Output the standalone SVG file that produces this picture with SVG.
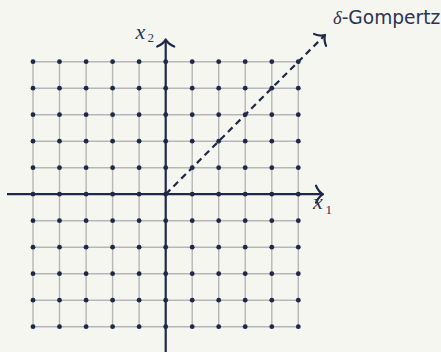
<svg xmlns="http://www.w3.org/2000/svg" width="441" height="352" viewBox="0 0 441 352">
<style>
.grid{stroke:#b6b6b6;stroke-width:1.4;fill:none}
.axis{stroke:#1e2848;stroke-width:2.2;fill:none}
.head{stroke:#1e2848;stroke-width:2.2;fill:none;stroke-linecap:round;stroke-linejoin:round}
.dot{fill:#1e2848}
.math{font-family:"Liberation Serif",serif;font-style:italic;fill:#2b3452}
.sub{font-family:"Liberation Serif",serif;fill:#2b3452}
.lbl{font-family:"DejaVu Sans",sans-serif;fill:#2b3452}
</style>
<defs>
<path id="ah" d="M-7,-8.5 C-5,-4 -2,-1 0,0 C-2,1 -5,4 -7,8.5"/>
</defs>
<rect width="441" height="352" fill="#f6f6f1"/>
<g id="grid">
<path class="grid" d="M33,61.7H298.3M33,88.2H298.3M33,114.7H298.3M33,141.2H298.3M33,167.7H298.3M33,220.7H298.3M33,247.2H298.3M33,273.7H298.3M33,300.2H298.3M33,326.7H298.3"/>
<path class="grid" d="M33,61.7V326.7M59.5,61.7V326.7M86.1,61.7V326.7M112.6,61.7V326.7M139.1,61.7V326.7M192.2,61.7V326.7M218.7,61.7V326.7M245.2,61.7V326.7M271.8,61.7V326.7M298.3,61.7V326.7"/>
</g>
<g id="connectors">
<line class="axis" x1="7" y1="194.2" x2="322.5" y2="194.2"/>
<line class="axis" x1="165.7" y1="352" x2="165.7" y2="40"/>
<use href="#ah" class="head" transform="translate(323,194.2)"/>
<use href="#ah" class="head" transform="translate(165.7,39.5) rotate(-90)"/>
<line class="axis" x1="165.7" y1="194.2" x2="324" y2="36" stroke-dasharray="6.5 4.5" stroke-width="2"/>
<use href="#ah" class="head" transform="translate(325,35) rotate(-45)"/>
</g>
<g id="dots" class="dot">
<g id="row0"><circle cx="33" cy="61.7" r="2.4"/><circle cx="59.5" cy="61.7" r="2.4"/><circle cx="86.1" cy="61.7" r="2.4"/><circle cx="112.6" cy="61.7" r="2.4"/><circle cx="139.1" cy="61.7" r="2.4"/><circle cx="165.7" cy="61.7" r="2.4"/><circle cx="192.2" cy="61.7" r="2.4"/><circle cx="218.7" cy="61.7" r="2.4"/><circle cx="245.2" cy="61.7" r="2.4"/><circle cx="271.8" cy="61.7" r="2.4"/><circle cx="298.3" cy="61.7" r="2.4"/></g>
<use href="#row0" y="26.5"/>
<use href="#row0" y="53"/>
<use href="#row0" y="79.5"/>
<use href="#row0" y="106"/>
<use href="#row0" y="132.5"/>
<use href="#row0" y="159"/>
<use href="#row0" y="185.5"/>
<use href="#row0" y="212"/>
<use href="#row0" y="238.5"/>
<use href="#row0" y="265"/>
</g>
<g id="label-x2"><text class="math" x="135.5" y="39" font-size="22">x</text><text class="sub" x="147.5" y="42" font-size="13">2</text></g>
<g id="label-x1"><text class="math" x="313" y="209" font-size="22">x</text><text class="sub" x="325.5" y="213.5" font-size="13">1</text></g>
<g id="label-gompertz"><text x="333" y="24" font-size="18.6"><tspan class="math">δ</tspan><tspan class="lbl">-Gompertz</tspan></text></g>
</svg>
